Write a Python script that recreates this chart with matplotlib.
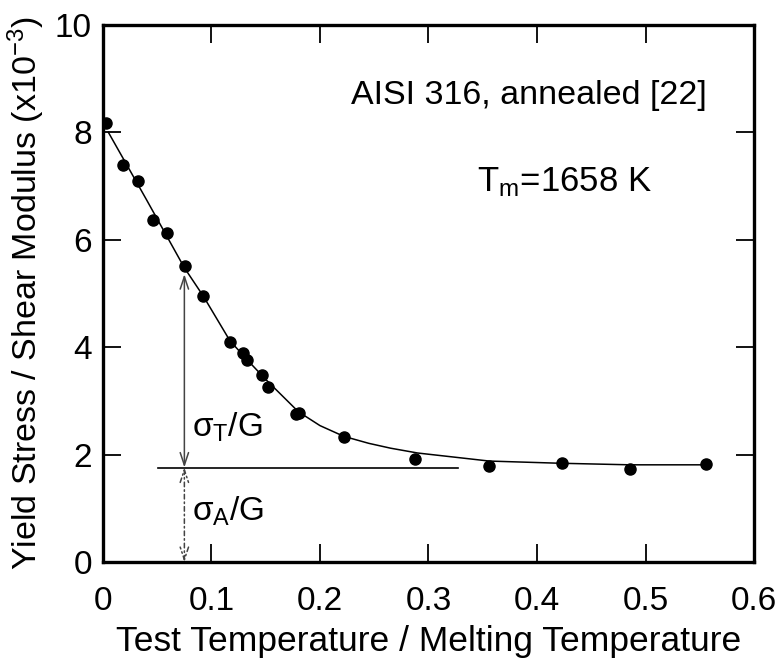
import matplotlib
matplotlib.use("Agg")
import matplotlib.pyplot as plt

plt.rcParams['font.family'] = ['Liberation Sans', 'DejaVu Sans']
plt.rcParams['mathtext.fontset'] = 'custom'
plt.rcParams['mathtext.rm'] = 'Liberation Sans'
plt.rcParams['mathtext.it'] = 'Liberation Sans'

# measured points: homologous temperature vs. yield stress / shear modulus (x1e-3)
t_hom = [0.0025, 0.0187, 0.0326, 0.0464, 0.0587, 0.0753, 0.0925, 0.117,
         0.129, 0.133, 0.147, 0.152, 0.178, 0.181, 0.222, 0.2876, 0.356,
         0.4227, 0.4857, 0.556]
stress_ratio = [8.18, 7.40, 7.09, 6.36, 6.12, 5.51, 4.96, 4.09,
                3.90, 3.77, 3.48, 3.26, 2.75, 2.78, 2.33, 1.92, 1.79,
                1.85, 1.74, 1.82]

# fitted trend curve
curve_t = [0.005, 0.04, 0.075, 0.0925, 0.117, 0.135, 0.15, 0.165, 0.18,
           0.20, 0.222, 0.245, 0.265, 0.29, 0.356, 0.42, 0.486, 0.556]
curve_s = [8.0, 6.75, 5.48, 4.95, 4.12, 3.72, 3.40, 3.10, 2.80,
           2.54, 2.34, 2.21, 2.12, 2.03, 1.88, 1.84, 1.81, 1.81]

athermal_level = 1.76
athermal_span = [0.051, 0.327]
arrow_t = 0.075
thermal_top = 5.36

xticks = [0, 0.1, 0.2, 0.3, 0.4, 0.5, 0.6]
xticklabels = ['0', '0.1', '0.2', '0.3', '0.4', '0.5', '0.6']
yticks = [0, 2, 4, 6, 8, 10]

fig = plt.figure(figsize=(7.82, 6.63), dpi=100)
ax = fig.add_axes([0.1317, 0.1523, 0.8325, 0.81])

ax.plot(curve_t, curve_s, color='black', lw=1.1, zorder=2)
ax.plot(t_hom, stress_ratio, 'o', color='black', ms=8, zorder=3)

ax.plot(athermal_span, [athermal_level, athermal_level], color='black', lw=1.2)

head = '<->,head_length=0.9,head_width=0.3'
ax.annotate('', xy=(arrow_t, thermal_top), xytext=(arrow_t, athermal_level),
            arrowprops=dict(arrowstyle=head, color='#444444', lw=1.1,
                            shrinkA=0, shrinkB=0))
ax.annotate('', xy=(arrow_t, 0.0), xytext=(arrow_t, athermal_level),
            arrowprops=dict(arrowstyle=head, color='#444444', lw=1.1,
                            ls=(0, (3, 2, 1, 2)), shrinkA=0, shrinkB=0))

ax.text(0.082, 2.5, r'$\sigma_\mathrm{T}$/G', fontsize=24, va='center', ha='left')
ax.text(0.082, 0.95, r'$\sigma_\mathrm{A}$/G', fontsize=24, va='center', ha='left')
ax.text(0.556, 8.68, 'AISI 316, annealed [22]', fontsize=24.5, va='center', ha='right')
ax.text(0.345, 7.07, r'T$_\mathrm{m}$=1658 K', fontsize=25, va='center', ha='left')

ax.set_xlim(0, 0.6)
ax.set_ylim(0, 10)
ax.set_xticks(xticks)
ax.set_xticklabels(xticklabels)
ax.set_yticks(yticks)
ax.tick_params(direction='in', length=13, width=1.3, top=True, right=True,
               labelsize=24, pad=8)
ax.tick_params(axis='x', pad=17)
for sp in ax.spines.values():
    sp.set_linewidth(2.4)

ax.set_xlabel('Test Temperature / Melting Temperature', fontsize=25.5, labelpad=6)
ax.set_ylabel(r'Yield Stress / Shear Modulus (x10$^{\mathrm{-3}}$)', fontsize=24.5, labelpad=6)

fig.savefig('out.png', dpi=100)
